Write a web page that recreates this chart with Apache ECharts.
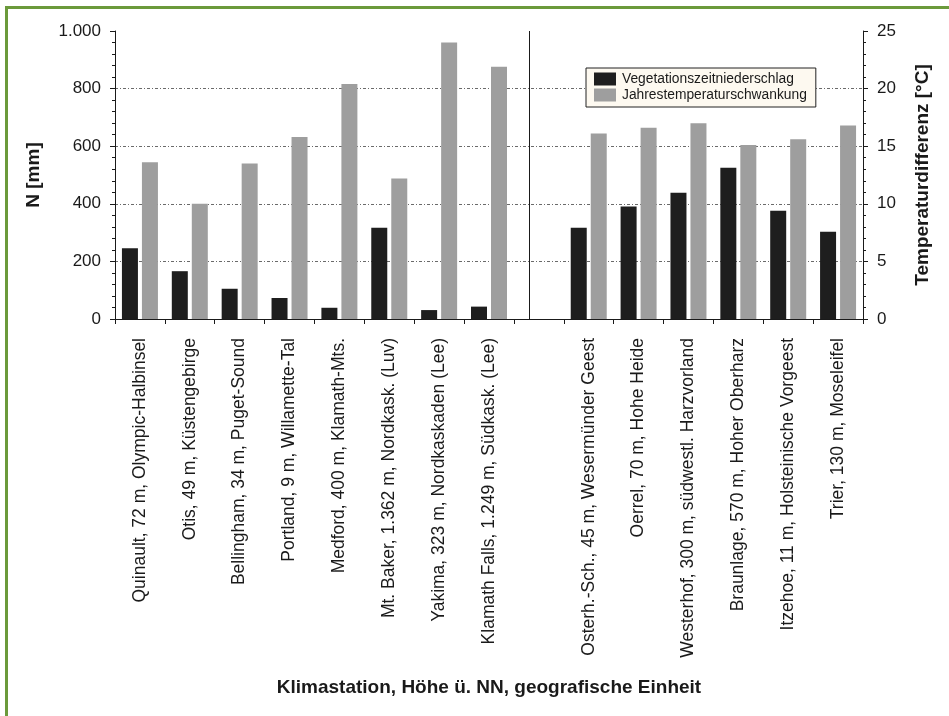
<!DOCTYPE html>
<html>
<head>
<meta charset="utf-8">
<script src="https://cdn.jsdelivr.net/npm/echarts@6/dist/echarts.min.js"></script>
<style>
  html, body { margin: 0; padding: 0; background: #fff; }
  #wrap { position: relative; width: 949px; height: 716px; overflow: hidden; }
  #frame { position: absolute; left: 5px; top: 6px; right: -10px; bottom: -10px;
           border-left: 3px solid #6b9a3b; border-top: 3px solid #6b9a3b; }
  #chart { position: absolute; left: 0; top: 0; width: 949px; height: 716px; }
</style>
</head>
<body>
<div id="wrap">
  <div id="frame"></div>
  <div id="chart"></div>
</div>
<script>
// Climate stations: US Pacific Northwest (left group), Germany (right group)
const stations = [
  'Quinault, 72 m, Olympic-Halbinsel',
  'Otis, 49 m, Küstengebirge',
  'Bellingham, 34 m, Puget-Sound',
  'Portland, 9 m, Willamette-Tal',
  'Medford, 400 m, Klamath-Mts.',
  'Mt. Baker, 1.362 m, Nordkask. (Luv)',
  'Yakima, 323 m, Nordkaskaden (Lee)',
  'Klamath Falls, 1.249 m, Südkask. (Lee)',
  '',
  'Osterh.-Sch., 45 m, Wesermünder Geest',
  'Oerrel, 70 m, Hohe Heide',
  'Westerhof, 300 m, südwestl. Harzvorland',
  'Braunlage, 570 m, Hoher Oberharz',
  'Itzehoe, 11 m, Holsteinische Vorgeest',
  'Trier, 130 m, Moseleifel'
];

// Growing-season precipitation [mm]
const vegetationPrecip = [246, 166, 105, 73, 39, 317, 31, 43, '-', 317, 391, 438, 525, 376, 303];

// Annual temperature range [°C]
const annualTempRange = [13.6, 10.0, 13.5, 15.8, 20.4, 12.2, 24.0, 21.9, '-', 16.1, 16.6, 17.0, 15.1, 15.6, 16.8];

const seriesNames = ['Vegetationszeitniederschlag', 'Jahrestemperaturschwankung'];
const axisTitles = {
  x: 'Klimastation, Höhe ü. NN, geografische Einheit',
  left: 'N [mm]',
  right: 'Temperaturdifferenz [°C]'
};
const gapIndex = 8;

const FONT = "'Liberation Sans', Arial, Helvetica, sans-serif";
const INK = '#1a1a1a';

function germanThousands(v) {
  return String(v).replace(/\B(?=(\d{3})+(?!\d))/g, '.');
}

const chart = echarts.init(document.getElementById('chart'), null, { renderer: 'canvas' });

const axisLine = { show: true, lineStyle: { color: INK, width: 1 } };

chart.setOption({
  animation: false,
  backgroundColor: 'transparent',
  textStyle: { fontFamily: FONT },
  grid: { left: 115, right: 86, top: 31, bottom: 397, containLabel: false },
  legend: {
    data: seriesNames,
    orient: 'vertical',
    left: 586,
    top: 68,
    padding: [3, 9, 4, 8],
    itemWidth: 22,
    itemHeight: 13,
    itemGap: 0,
    backgroundColor: '#fdf9f0',
    borderColor: '#222',
    borderWidth: 1,
    borderRadius: 0,
    icon: 'rect',
    textStyle: { fontSize: 13.8, color: INK, fontFamily: FONT, lineHeight: 16, padding: [0, 0, 0, 1] }
  },
  xAxis: [
    {
      type: 'category',
      data: stations,
      position: 'bottom',
      offset: 5,
      boundaryGap: true,
      axisLine: axisLine,
      axisTick: { show: true, length: 5, alignWithLabel: false, lineStyle: { color: INK } },
      axisLabel: {
        interval: 0,
        rotate: 90,
        margin: 14,
        fontSize: 17.5,
        color: INK,
        fontFamily: FONT
      },
      splitLine: { show: false },
      name: axisTitles.x,
      nameLocation: 'middle',
      nameGap: 354,
      nameTextStyle: { fontSize: 19, fontWeight: 'bold', color: INK, fontFamily: FONT }
    },
    {
      type: 'category',
      data: stations,
      position: 'top',
      boundaryGap: true,
      axisLine: axisLine,
      axisTick: { show: false },
      axisLabel: { show: false },
      splitLine: { show: false }
    }
  ],
  yAxis: [
    {
      type: 'value',
      position: 'left',
      min: 0,
      max: 1000,
      interval: 200,
      axisLine: axisLine,
      axisTick: { show: true, length: 5, lineStyle: { color: INK } },
      minorTick: { show: true, splitNumber: 5, length: 3, lineStyle: { color: INK } },
      axisLabel: {
        margin: 14,
        fontSize: 17,
        color: INK,
        fontFamily: FONT,
        formatter: germanThousands
      },
      splitLine: {
        show: true,
        showMinLine: false,
        showMaxLine: false,
        lineStyle: { color: '#6a6a6a', width: 1, type: [3, 2, 1, 2] }
      },
      name: axisTitles.left,
      nameLocation: 'middle',
      nameGap: 72,
      nameRotate: 90,
      nameTextStyle: { fontSize: 19, fontWeight: 'bold', color: INK, fontFamily: FONT }
    },
    {
      type: 'value',
      position: 'right',
      min: 0,
      max: 25,
      interval: 5,
      axisLine: axisLine,
      axisTick: { show: true, length: 5, lineStyle: { color: INK } },
      minorTick: { show: true, splitNumber: 5, length: 3, lineStyle: { color: INK } },
      axisLabel: { margin: 14, fontSize: 17, color: INK, fontFamily: FONT },
      splitLine: { show: false },
      name: axisTitles.right,
      nameLocation: 'middle',
      nameGap: 50,
      nameRotate: 90,
      nameTextStyle: { fontSize: 19, fontWeight: 'bold', color: INK, fontFamily: FONT }
    }
  ],
  series: [
    {
      name: seriesNames[0],
      type: 'bar',
      xAxisIndex: 0,
      yAxisIndex: 0,
      data: vegetationPrecip,
      barWidth: 16,
      barGap: '25%',
      itemStyle: { color: '#1e1e1e' },
      markLine: {
        silent: true,
        symbol: 'none',
        label: { show: false },
        lineStyle: { color: INK, width: 1, type: 'solid' },
        data: [{ xAxis: gapIndex }]
      }
    },
    {
      name: seriesNames[1],
      type: 'bar',
      xAxisIndex: 0,
      yAxisIndex: 1,
      data: annualTempRange,
      barWidth: 16,
      barGap: '25%',
      itemStyle: { color: '#9e9e9e' }
    }
  ]
});
</script>
</body>
</html>
